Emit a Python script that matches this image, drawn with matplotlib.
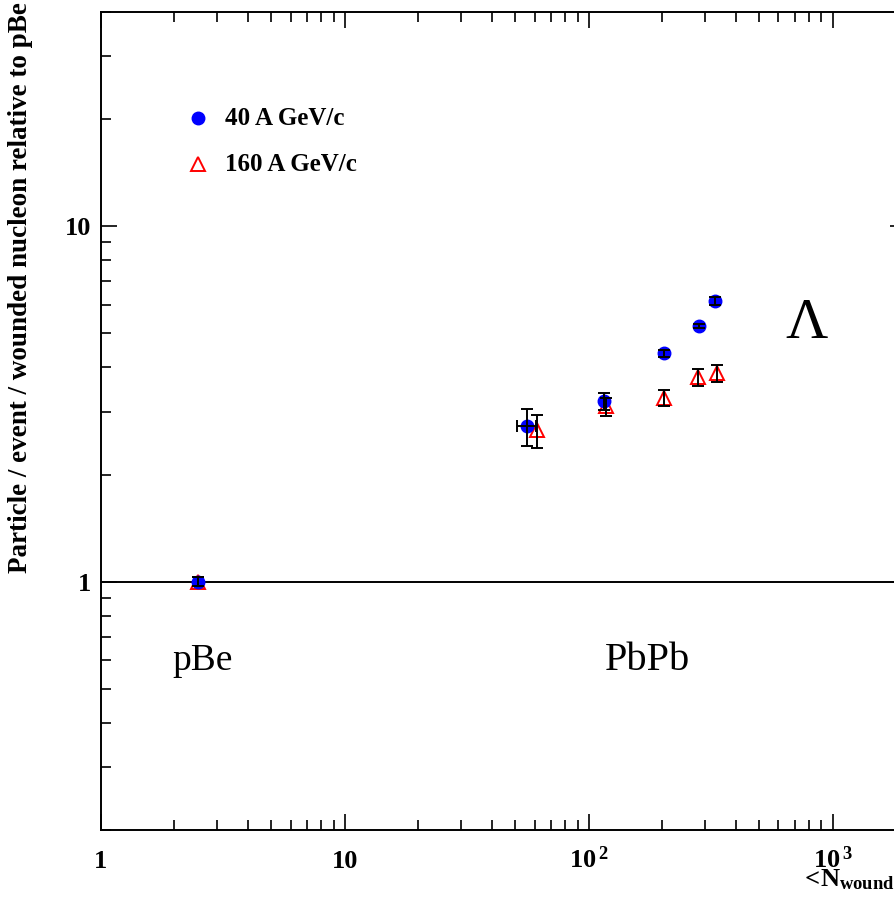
import matplotlib
matplotlib.use("Agg")
import matplotlib.pyplot as plt
from matplotlib.ticker import LogLocator, FixedLocator, FixedFormatter, NullFormatter
import numpy as np

plt.rcParams['font.family'] = ['Liberation Serif', 'DejaVu Serif']
plt.rcParams['mathtext.fontset'] = 'custom'
plt.rcParams['mathtext.rm'] = 'Liberation Serif:bold'
plt.rcParams['mathtext.it'] = 'Liberation Serif:bold'
plt.rcParams['mathtext.bf'] = 'Liberation Serif:bold'

########################### data ####################################
## 40 A GeV/c  (pBe + PbPb centrality bins)
x40 = [2.5, 55.7, 115, 203, 282, 331]
y40 = [1.0, 2.73, 3.21, 4.39, 5.23, 6.15]
ey40 = [0.03, 0.33, 0.18, 0.10, 0.08, 0.15]
ex40 = [0, 5.0, 0, 0, 0, 0]
## 160 A GeV/c
x160 = [2.5, 61.4, 117.5, 203, 281, 336]
y160 = [1.0, 2.66, 3.11, 3.29, 3.75, 3.85]
ey160 = [0.03, 0.29, 0.18, 0.17, 0.20, 0.22]

xticks = [1, 10, 100, 1000]
xticklabels = ["1", "10", r"$10^{\,2}$", r"$10^{\,3}$"]
yticks = [1, 10]
yticklabels = ["1", "10"]
######################################################################

W, H = 894, 899
fig = plt.figure(figsize=(W / 100, H / 100), dpi=100)
## right edge of the frame lies just outside the picture, as in the original
ax = fig.add_axes([101 / W, 1 - 830 / H, (906 - 101) / W, (830 - 12) / H])
ax.set_xscale("log")
ax.set_yscale("log")
ax.set_xlim(1, 2000)
ax.set_ylim(0.2, 40)

ax.axhline(1, color="black", lw=1.4, zorder=1)

## markers first, error bars drawn over them (ROOT style)
ax.plot(x160, y160, "^", mfc="none", mec="red", ms=10, mew=1.4, zorder=3)
ax.plot(x40, y40, "o", color="blue", ms=9, zorder=4)
ax.errorbar(x160, y160, yerr=ey160, fmt="none", ecolor="black",
            elinewidth=1.4, capsize=4.5, capthick=1.4, zorder=5)
ax.errorbar(x40, y40, yerr=ey40, fmt="none", ecolor="black",
            elinewidth=1.4, capsize=4.5, capthick=1.4, zorder=5)
m = np.array(ex40) > 0
ax.errorbar(np.array(x40)[m], np.array(y40)[m], xerr=np.array(ex40)[m], fmt="none",
            ecolor="black", elinewidth=1.4, capsize=4.5, capthick=1.4, zorder=5)

## legend drawn by hand, like ROOT
ax.plot([2.5], [20.1], "o", color="blue", ms=9)
ax.plot([2.5], [14.9], "^", mfc="none", mec="red", ms=10, mew=1.4)
ax.text(3.22, 20.1, "40 A GeV/c", fontsize=18, fontweight="bold", va="center", ha="left")
ax.text(3.22, 14.9, "160 A GeV/c", fontsize=18, fontweight="bold", va="center", ha="left")

ax.text(2.6, 0.6, "pBe", fontsize=27, ha="center", va="center")
ax.text(175, 0.6, "PbPb", fontsize=29, ha="center", va="center")
ax.text(782, 5.3, "\u039b", fontsize=42, ha="center", va="center")

## ticks
ax.tick_params(which="both", direction="in", top=True, right=True, width=1.2)
ax.tick_params(which="major", length=11.5)
ax.tick_params(which="minor", length=7)
ax.xaxis.set_major_locator(FixedLocator(xticks))
ax.xaxis.set_major_formatter(FixedFormatter(xticklabels))
ax.xaxis.set_minor_locator(LogLocator(base=10, subs=np.arange(2, 10)))
ax.xaxis.set_minor_formatter(NullFormatter())
ax.yaxis.set_major_locator(FixedLocator(yticks))
ax.yaxis.set_major_formatter(FixedFormatter(yticklabels))
ax.yaxis.set_minor_locator(LogLocator(base=10, subs=np.arange(2, 10)))
ax.yaxis.set_minor_formatter(NullFormatter())
ax.tick_params(axis="x", which="major", pad=27, labelsize=19)
ax.tick_params(axis="y", which="major", pad=7, labelsize=19)
for lab in ax.get_xticklabels():
    lab.set_fontweight("bold")
    lab.set_va("baseline")
for lab in ax.get_yticklabels():
    lab.set_fontweight("bold")
for sp in ax.spines.values():
    sp.set_linewidth(1.4)

fig.text(21 / W, 1 - 288 / H, "Particle / event / wounded nucleon relative to pBe",
         rotation=90, fontsize=19.5, fontweight="bold", ha="center", va="center")
fig.text(800 / W, 1 - 886 / H, r"$<\!N_{wound}\!>$", fontsize=19, ha="left", va="baseline")

fig.savefig("out.png", dpi=100)
